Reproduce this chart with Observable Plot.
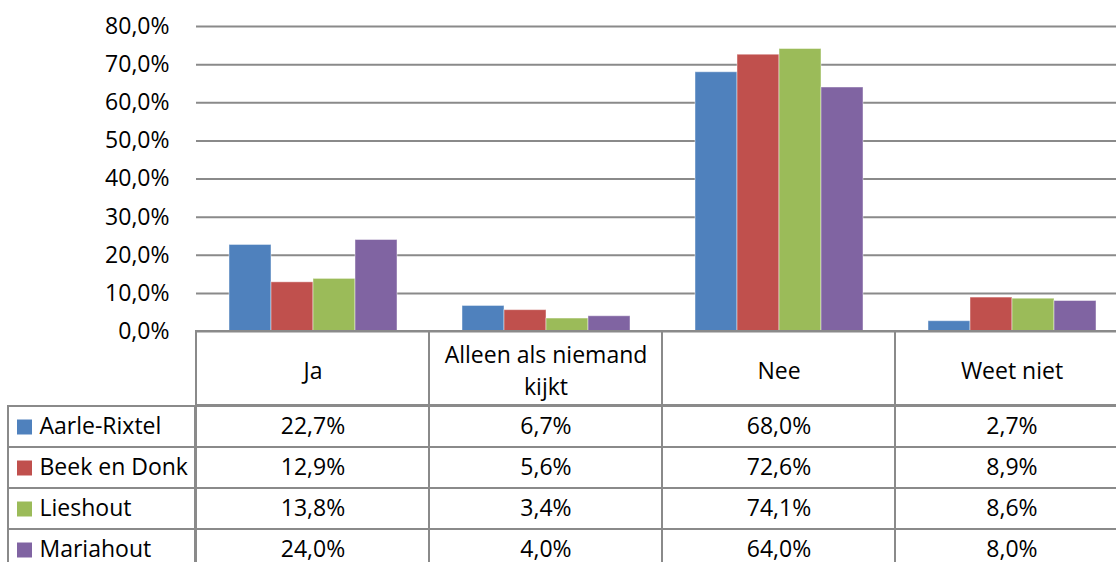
<!DOCTYPE html>
<html><head><meta charset="utf-8">
<script src="https://cdn.jsdelivr.net/npm/d3@7"></script>
<script src="https://cdn.jsdelivr.net/npm/@observablehq/plot@0.6"></script>
<style>
html,body{margin:0;padding:0;background:#fff;overflow:hidden;width:1116px;height:562px;}
#wrap{position:relative;width:1140px;height:600px;}
#wrap svg{position:absolute;left:0;display:block;}
</style></head><body><div id="wrap"></div>
<script>
const categories = ["Ja", "Alleen als niemand kijkt", "Nee", "Weet niet"];
const categoryLabels = ["Ja", "Alleen als niemand\nkijkt", "Nee", "Weet niet"];
const series = ["Aarle-Rixtel", "Beek en Donk", "Lieshout", "Mariahout"];
const colors = ["#4F81BD", "#C0504D", "#9BBB59", "#8064A2"];
const aarleRixtel = [22.7, 6.7, 68.0, 2.7];
const beekEnDonk = [12.9, 5.6, 72.6, 8.9];
const lieshout = [13.8, 3.4, 74.1, 8.6];
const mariahout = [24.0, 4.0, 64.0, 8.0];
const yTicks = [0, 10, 20, 30, 40, 50, 60, 70, 80];

const seriesValues = [aarleRixtel, beekEnDonk, lieshout, mariahout];
const data = [];
series.forEach((s, i) => categories.forEach((c, j) => data.push({series: s, category: c, value: seriesValues[i][j]})));
const header = categories.map((c, j) => ({category: c, label: categoryLabels[j]}));
const fmt = v => v.toFixed(1).replace(".", ",") + "%";

const FONT = "'Open Sans', sans-serif";
const W = 1140, ML = 195, MR = 12;
const GRID = "#8a8a8a";
const wrap = document.getElementById("wrap");
const color = {domain: series, range: colors};

// Bars
const bars = Plot.plot({
  width: W, height: 333, marginTop: 26, marginBottom: 2, marginLeft: ML, marginRight: MR,
  style: {fontFamily: FONT, fontSize: "23px", color: "#000", background: "transparent", overflow: "visible"},
  fx: {domain: categories, padding: 0, axis: null, label: null},
  x: {domain: series, paddingInner: 0, paddingOuter: 0.744, axis: null},
  y: {domain: [0, 80], axis: null},
  color,
  marks: [
    Plot.gridY(yTicks, {stroke: GRID, strokeOpacity: 1, strokeWidth: 2}),
    Plot.barY(data, {fx: "category", x: "series", y: "value", fill: "series", stroke: "#ffffff", strokeOpacity: 0.45, strokeWidth: 1}),
    Plot.axisY({ticks: yTicks, tickFormat: d => d.toFixed(1).replace(".", ",") + "%", tickSize: 0, tickPadding: 27, fontSize: 23, fill: "#000", label: null, line: true, stroke: "#a0a0a0", strokeWidth: 2})
  ]
});
bars.style.top = "0px";
wrap.appendChild(bars);

// Table header
const head = Plot.plot({
  width: W, height: 76, marginTop: 1, marginBottom: 1, marginLeft: ML, marginRight: MR,
  style: {fontFamily: FONT, fontSize: "23px", color: "#000", background: "transparent", overflow: "visible"},
  x: {domain: categories, padding: 0, axis: null},
  marks: [
    Plot.cell(header, {x: "category", fill: "none", stroke: GRID, strokeWidth: 2}),
    Plot.text(header, {x: "category", text: "label", fontSize: 23, lineAnchor: "middle", lineHeight: 1.43, fill: "#000"})
  ]
});
head.style.top = "330px";
wrap.appendChild(head);

// Table body
const body = Plot.plot({
  width: W, height: 168, marginTop: 1, marginBottom: 2, marginLeft: ML, marginRight: MR,
  style: {fontFamily: FONT, fontSize: "23px", color: "#000", background: "transparent", overflow: "visible"},
  x: {domain: categories, padding: 0, axis: null},
  y: {domain: series, padding: 0, axis: null},
  color,
  marks: [
    Plot.cell(series, {y: d => d, fill: "none", stroke: GRID, strokeWidth: 2, insetLeft: -187, insetRight: W - ML - MR}),
    Plot.cell(data, {x: "category", y: "series", fill: "none", stroke: GRID, strokeWidth: 2}),
    Plot.dot(series, {y: d => d, fill: d => d, symbol: "square", r: 8.46, frameAnchor: "left", dx: -171}),
    Plot.text(series, {y: d => d, text: d => d, frameAnchor: "left", textAnchor: "start", dx: -156, fontSize: 23, fill: "#000"}),
    Plot.text(data, {x: "category", y: "series", text: d => fmt(d.value), fontSize: 23, fill: "#000"})
  ]
});
body.style.top = "404px";
wrap.appendChild(body);
</script>
</body></html>
